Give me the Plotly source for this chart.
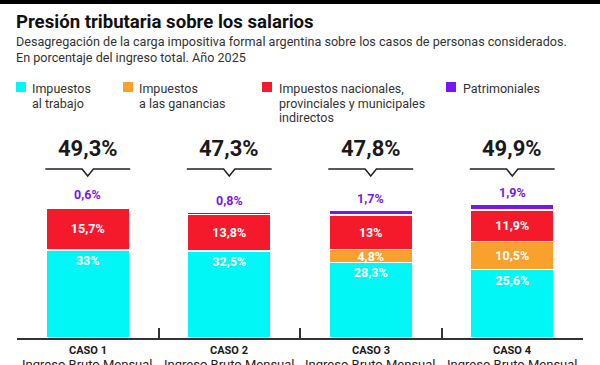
import plotly.graph_objects as go

# ---------------- data ----------------
cases = ["CASO 1", "CASO 2", "CASO 3", "CASO 4"]
case_sub = ["Ingreso Bruto Mensual", "Ingreso Bruto Mensual", "Ingreso Bruto Mensual", "Ingreso Bruto Mensual"]
trabajo = [33, 32.5, 28.3, 25.6]
ganancias = [0, 0, 4.8, 10.5]
indirectos = [15.7, 13.8, 13, 11.9]
patrimoniales = [0.6, 0.8, 1.7, 1.9]
totals = [49.3, 47.3, 47.8, 49.9]
legend_labels = [["Impuestos", "al trabajo"], ["Impuestos", "a las ganancias"],
                 ["Impuestos nacionales,", "provinciales y municipales", "indirectos"], ["Patrimoniales"]]

C_CYAN = "#00F7F5"
C_ORANGE = "#F9A12C"
C_RED = "#F51A2B"
C_PURPLE = "#7A14F0"
colors = [C_CYAN, C_ORANGE, C_RED, C_PURPLE]

W, H = 600, 365
ML, MR, MT, MB = 17, 17, 100, 27
PW, PH = W - ML - MR, H - MT - MB
PX_PER_UNIT = 2.67
YMAX = PH / PX_PER_UNIT

def px(x):
    return (x - ML) / PW

def py(y):
    return (H - MB - y) / PH

def fmt(v):
    s = ("%.1f" % v).rstrip("0").rstrip(".")
    return s.replace(".", ",") + "%"

xs = list(range(len(cases)))
FONT = "Roboto"

fig = go.Figure()
series = [trabajo, ganancias, indirectos]
anchors = ["end", "middle", "middle"]
for vals, col, anc, name in zip(series, colors[:3], anchors, legend_labels[:3]):
    fig.add_trace(go.Bar(
        x=xs, y=vals, name=" ".join(name), marker=dict(color=col, line=dict(color="white", width=1.5)),
        width=0.59, text=[fmt(v) if v > 0 else "" for v in vals],
        textposition="inside", insidetextanchor=anc, constraintext="none",
        textfont=dict(color="white", size=12.5, family=FONT, weight="bold"),
        hoverinfo="skip", showlegend=False))
fig.add_trace(go.Bar(
    x=xs, y=patrimoniales, name="Patrimoniales",
    marker=dict(color=C_PURPLE, line=dict(color="white", width=1)),
    width=0.59, hoverinfo="skip", showlegend=False))

annotations = []
shapes = []
# top black bar
shapes.append(dict(type="rect", xref="paper", yref="paper", x0=px(-5), x1=px(W + 5),
                   y0=py(4), y1=py(-5), fillcolor="black", line=dict(width=0), layer="above"))
# title & subtitle
annotations.append(dict(text="<b>Presión tributaria sobre los salarios</b>", x=px(14), y=py(22),
                        xref="paper", yref="paper", xanchor="left", yanchor="middle", showarrow=False,
                        font=dict(family=FONT, size=18.6, color="#111")))
annotations.append(dict(text="Desagregación de la carga impositiva formal argentina sobre los casos de personas considerados.",
                        x=px(14), y=py(42), xref="paper", yref="paper", xanchor="left", yanchor="middle",
                        showarrow=False, font=dict(family=FONT, size=12.6, color="#333")))
annotations.append(dict(text="En porcentaje del ingreso total. Año 2025",
                        x=px(14), y=py(58), xref="paper", yref="paper", xanchor="left", yanchor="middle",
                        showarrow=False, font=dict(family=FONT, size=12.6, color="#333")))
# legend
leg_sq = [16, 123, 262, 446]
leg_tx = [30, 137, 277, 461]
line_y = [89, 103.5, 118]
for sq, tx, col, lab in zip(leg_sq, leg_tx, colors, legend_labels):
    shapes.append(dict(type="rect", xref="paper", yref="paper", x0=px(sq), x1=px(sq + 10),
                       y0=py(92), y1=py(82), fillcolor=col, line=dict(width=0)))
    for k, line in enumerate(lab):
        annotations.append(dict(text=line, x=px(tx), y=py(line_y[k]), xref="paper", yref="paper",
                                xanchor="left", yanchor="middle", align="left", showarrow=False,
                                font=dict(family=FONT, size=12.5, color="#333")))
# totals, brackets, purple labels, case labels
for i in xs:
    stack = trabajo[i] + ganancias[i] + indirectos[i] + patrimoniales[i]
    annotations.append(dict(text="<b>" + fmt(totals[i]) + "</b>", x=i, y=py(148), xref="x", yref="paper",
                            xanchor="center", yanchor="middle", showarrow=False,
                            font=dict(family=FONT, size=22, color="#1a1a1a")))
    shapes.append(dict(type="path", xref="x", yref="paper",
                       path=f"M {i-0.3},{py(169)} L {i-0.04},{py(169)} L {i},{py(176)} L {i+0.04},{py(169)} L {i+0.3},{py(169)}",
                       line=dict(color="#222", width=1.5)))
    annotations.append(dict(text="<b>" + fmt(patrimoniales[i]) + "</b>", x=i, y=stack, xref="x", yref="y",
                            yshift=12, xanchor="center", yanchor="middle", showarrow=False,
                            font=dict(family=FONT, size=12.5, color=C_PURPLE)))
    annotations.append(dict(text="<b>" + cases[i] + "</b>", x=i, y=py(350), xref="x", yref="paper",
                            xanchor="center", yanchor="middle", showarrow=False,
                            font=dict(family=FONT, size=11, color="#1a1a1a")))
    annotations.append(dict(text=case_sub[i], x=i, y=py(364), xref="x", yref="paper",
                            xanchor="center", yanchor="middle", showarrow=False,
                            font=dict(family=FONT, size=13, color="#222")))

fig.update_layout(
    width=W, height=H, barmode="stack", bargap=0.4,
    margin=dict(l=ML, r=MR, t=MT, b=MB, pad=0),
    paper_bgcolor="white", plot_bgcolor="white",
    xaxis=dict(range=[-0.5, 3.5], tickmode="array", tickvals=[-0.5, 0.5, 1.5, 2.5, 3.5],
               ticks="inside", ticklen=10, tickwidth=1.5, tickcolor="#333",
               showticklabels=False, showline=True, linecolor="#333", linewidth=1.5,
               showgrid=False, zeroline=False, fixedrange=True),
    yaxis=dict(range=[0, YMAX], visible=False, fixedrange=True),
    annotations=annotations, shapes=shapes, showlegend=False,
)
fig.write_html("out.html", post_script="document.body.style.margin='0';",
               config={"displayModeBar": False})
